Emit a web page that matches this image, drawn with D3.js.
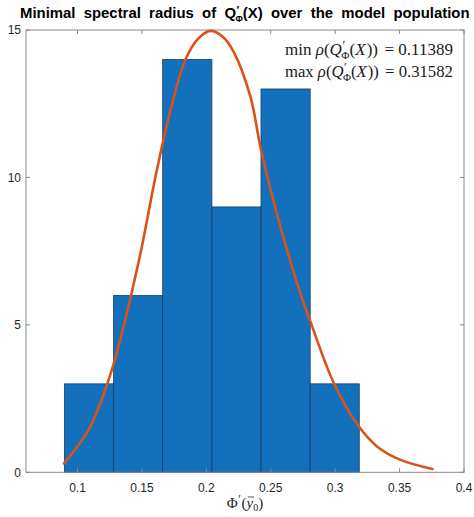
<!DOCTYPE html>
<html>
<head>
<meta charset="utf-8">
<script src="https://cdn.jsdelivr.net/npm/d3@7"></script>
<style>
  html, body { margin: 0; padding: 0; background: #fff; }
  svg { display: block; }
</style>
</head>
<body>
<svg id="chart" width="474" height="517"></svg>
<script>
// Histogram bin edges and counts
const binEdges = [0.0898, 0.1280, 0.1661, 0.2043, 0.2424, 0.2806, 0.3187];
const binCounts = [3, 6, 14, 9, 13, 3];

// Fitted density curve (scaled to counts)
const fitX = [0.0895, 0.1085, 0.1214, 0.1282, 0.1357, 0.1416, 0.1494, 0.1616, 0.1726, 0.1836, 0.1935, 0.2031, 0.2125, 0.2212, 0.2342, 0.2425, 0.2575, 0.2735, 0.2808, 0.2990, 0.3184, 0.3327, 0.3508, 0.3755];
const fitY = [0.30, 1.43, 2.79, 3.70, 4.94, 6.01, 7.54, 10.25, 12.35, 13.98, 14.70, 14.97, 14.78, 14.26, 12.74, 10.93, 8.33, 6.00, 5.11, 3.02, 1.55, 0.87, 0.42, 0.11];

// Axis ticks
const xTicks = [0.1, 0.15, 0.2, 0.25, 0.3, 0.35, 0.4];
const xTickLabels = ["0.1", "0.15", "0.2", "0.25", "0.3", "0.35", "0.4"];
const yTicks = [0, 5, 10, 15];
const yTickLabels = ["0", "5", "10", "15"];

const minRho = "0.11389";
const maxRho = "0.31582";

const svg = d3.select("#chart");
const L = 26, R = 464, T = 30, B = 472.3;

const x = d3.scaleLinear().domain([0.06, 0.4]).range([L, R]);
const y = d3.scaleLinear().domain([0, 15]).range([B, T]);

const sans = "'Liberation Sans', Arial, Helvetica, sans-serif";
const serif = "'Liberation Serif', 'Times New Roman', serif";
const axisColor = "#8a8a8a";

// Bars
const bins = binCounts.map((c, i) => ({ x0: binEdges[i], x1: binEdges[i + 1], c }));
svg.append("g").selectAll("rect").data(bins).join("rect")
  .attr("x", d => x(d.x0))
  .attr("y", d => y(d.c))
  .attr("width", d => x(d.x1) - x(d.x0))
  .attr("height", d => y(0) - y(d.c))
  .attr("fill", "#1270bd")
  .attr("stroke", "#1d3f63")
  .attr("stroke-width", 0.8);

// Axes box
const g = svg.append("g");
g.append("rect").attr("x", L).attr("y", T).attr("width", R - L).attr("height", B - T)
  .attr("fill", "none").attr("stroke", axisColor).attr("stroke-width", 1);

// Ticks (inward, on all four sides)
const tl = 4;
xTicks.forEach(v => {
  g.append("line").attr("x1", x(v)).attr("x2", x(v)).attr("y1", B).attr("y2", B - tl)
    .attr("stroke", axisColor);
  g.append("line").attr("x1", x(v)).attr("x2", x(v)).attr("y1", T).attr("y2", T + tl)
    .attr("stroke", axisColor);
});
yTicks.forEach(v => {
  g.append("line").attr("x1", L).attr("x2", L + tl).attr("y1", y(v)).attr("y2", y(v))
    .attr("stroke", axisColor);
  g.append("line").attr("x1", R).attr("x2", R - tl).attr("y1", y(v)).attr("y2", y(v))
    .attr("stroke", axisColor);
});

// Tick labels
svg.append("g").selectAll("text").data(xTicks).join("text")
  .attr("x", d => x(d)).attr("y", 492)
  .attr("text-anchor", "middle")
  .attr("font-family", sans).attr("font-size", 12).attr("fill", "#262626")
  .text((d, i) => xTickLabels[i]);
svg.append("g").selectAll("text").data(yTicks).join("text")
  .attr("x", 21).attr("y", d => y(d) + 4.3)
  .attr("text-anchor", "end")
  .attr("font-family", sans).attr("font-size", 12).attr("fill", "#262626")
  .text((d, i) => yTickLabels[i]);

// Fitted curve
const line = d3.line().x(d => x(d[0])).y(d => y(d[1])).curve(d3.curveCatmullRom.alpha(0.5));
svg.append("path").datum(fitX.map((v, i) => [v, fitY[i]]))
  .attr("d", line).attr("fill", "none")
  .attr("stroke", "#d95319").attr("stroke-width", 2.6)
  .attr("stroke-linejoin", "round").attr("stroke-linecap", "round");

// Measure a string in a given style
function measure(t, family, size, weight, italic) {
  const m = svg.append("text").attr("x", -1000).attr("y", -1000)
    .attr("font-family", family).attr("font-size", size)
    .attr("font-weight", weight || "normal")
    .attr("font-style", italic ? "italic" : "normal")
    .style("white-space", "pre").text(t);
  const w = m.node().getComputedTextLength();
  m.remove();
  return w;
}

// One text element built from tspans; `off` is baseline offset, `back` steps back under the previous piece
function richText(parent, pieces, base) {
  const t = parent.append("text")
    .attr("font-family", base.family).attr("font-size", base.size)
    .attr("font-weight", base.weight || "normal").attr("fill", base.fill)
    .style("white-space", "pre");
  let cur = 0, prevW = 0, total = 0, cx = 0;
  pieces.forEach(p => {
    const size = p.size || base.size;
    const off = p.off || 0;
    const w = measure(p.t, base.family, size, base.weight, p.italic);
    const dx = (p.back ? -prevW : 0) + (p.dx || 0);
    t.append("tspan")
      .attr("dx", dx).attr("dy", off - cur)
      .attr("font-size", size)
      .attr("font-style", p.italic ? "italic" : "normal")
      .text(p.t);
    cur = off;
    cx += dx + w;
    total = Math.max(total, cx);
    prevW = w;
  });
  t.width = total;
  return t;
}

// Title, fitted across the plot width
const titleBase = { family: sans, size: 15, weight: "bold", fill: "#000" };
const titlePieces = [
  { t: "Minimal  spectral  radius  of  Q" },
  { t: "\u2032", size: 11, off: -4, dx: 0.5 },
  { t: "\u03A6", size: 9, off: 4, back: true, dx: -1 },
  { t: "(X)  over  the  model  population", off: 0 }
];
const titleG = svg.append("g");
const title = richText(titleG, titlePieces, titleBase);
const tsx = 450 / title.width;
titleG.attr("transform", `translate(20,17.5) scale(${tsx},1)`);

// Annotations with min / max spectral radius
const annBase = { family: serif, size: 16, fill: "#1a1a1a" };
function rhoPieces(word, val) {
  return [
    { t: word + " " },
    { t: "\u03C1", italic: true },
    { t: "(" },
    { t: "Q", italic: true },
    { t: "\u2032", size: 12, off: -6, dx: 0.5 },
    { t: "\u03A6", size: 10.5, off: 4, back: true, dx: -1 },
    { t: "(", off: 0 },
    { t: "X", italic: true },
    { t: "))", dx: 1 },
    { t: " = " + val, dx: 2 }
  ];
}
[["min", minRho, 55], ["max", maxRho, 77]].forEach(([w, v, by]) => {
  const ag = svg.append("g");
  const at = richText(ag, rhoPieces(w, v), annBase);
  const s = 168 / at.width;
  ag.attr("transform", `translate(285,${by}) scale(${s},1)`);
});

// X axis label: Φ′(ȳ₀)
const xlBase = { family: serif, size: 15, fill: "#262626" };
const xlPieces = [
  { t: "\u03A6" },
  { t: "\u2032", size: 12, off: -5, dx: 0.5 },
  { t: "(", off: 0, dx: 0.5 },
  { t: "y", italic: true },
  { t: "0", size: 10, off: 3 },
  { t: ")", off: 0 }
];
const xlG = svg.append("g");
const xl = richText(xlG, xlPieces, xlBase);
const x0 = 245 - xl.width / 2;
xlG.attr("transform", `translate(${x0},508)`);
// overline bar over the y
const wPre = measure("\u03A6", serif, 15) + measure("\u2032", serif, 12) + 0.5 + measure("(", serif, 15) + 0.5;
const wY = measure("y", serif, 15, "normal", true);
xlG.append("line")
  .attr("x1", wPre + 1.5).attr("x2", wPre + wY + 1)
  .attr("y1", -11).attr("y2", -11)
  .attr("stroke", "#262626").attr("stroke-width", 0.8);
</script>
</body>
</html>
